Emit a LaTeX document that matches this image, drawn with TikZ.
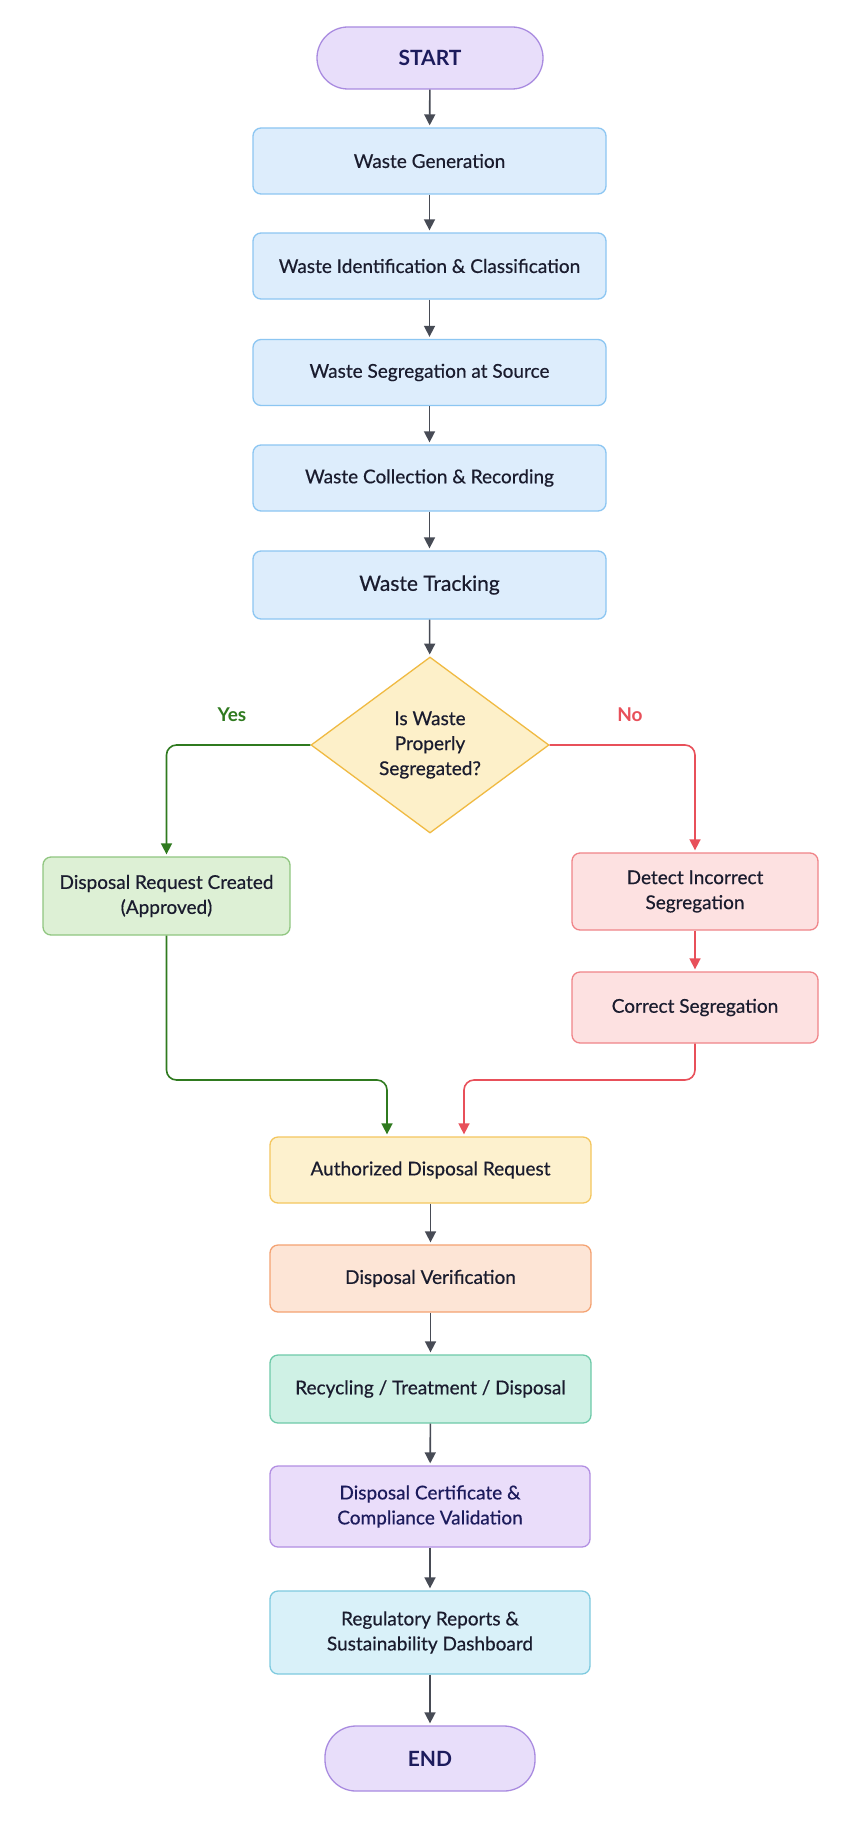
\documentclass[tikz,border=0pt]{standalone}
\usepackage{fontspec}
\setmainfont{Lato}[FakeBold=0.5,BoldFont={Lato Bold},BoldFeatures={FakeBold=0}]
\usetikzlibrary{shapes.geometric,arrows.meta,calc}
\definecolor{txt}{HTML}{1A1C2E}
\definecolor{navy}{HTML}{1C1B5C}
\definecolor{arr}{HTML}{474B55}
\definecolor{gline}{HTML}{2F7A1F}
\definecolor{rline}{HTML}{E8505A}
\definecolor{pillF}{HTML}{E8DEFA}
\definecolor{pillD}{HTML}{A98BE0}
\definecolor{blueF}{HTML}{DDEDFC}
\definecolor{blueD}{HTML}{8CC6F2}
\definecolor{decF}{HTML}{FDF0C9}
\definecolor{decD}{HTML}{F0BA42}
\definecolor{grnF}{HTML}{DDF0D5}
\definecolor{grnD}{HTML}{90C680}
\definecolor{redF}{HTML}{FDE1E1}
\definecolor{redD}{HTML}{F08488}
\definecolor{ylwF}{HTML}{FDF1CE}
\definecolor{ylwD}{HTML}{F4C65E}
\definecolor{orgF}{HTML}{FDE5D6}
\definecolor{orgD}{HTML}{F4A272}
\definecolor{tealF}{HTML}{CFF1E5}
\definecolor{tealD}{HTML}{6ECAA9}
\definecolor{purF}{HTML}{EADDFA}
\definecolor{purD}{HTML}{B28EE2}
\definecolor{cyanF}{HTML}{D9F1F9}
\definecolor{cyanD}{HTML}{7ECADF}
\tikzset{
  base/.style={draw, line width=1.3pt, rounded corners=8pt, align=center, inner sep=0pt, text=txt, font=\fontsize{19}{25}\selectfont},
  pill/.style={base, fill=pillF, draw=pillD, rounded corners=31pt, text=navy, font=\fontsize{21}{25}\selectfont\bfseries},
  bluebox/.style={base, fill=blueF, draw=blueD, minimum width=353pt, minimum height=66pt},
  procbox/.style={base, minimum width=321pt, minimum height=66pt},
  decision/.style={diamond, draw=decD, fill=decF, line width=1.3pt, aspect=1.35, minimum width=238pt, minimum height=176pt, inner sep=0pt, align=center, text=txt, font=\fontsize{19}{25}\selectfont},
  lbl/.style={font=\fontsize{19}{22}\selectfont\bfseries},
  flow/.style={draw=arr, line width=1.6pt, -{Triangle[length=11pt,width=11pt]}, shorten >=2pt},
  gflow/.style={draw=gline, line width=1.6pt, rounded corners=10pt, -{Triangle[length=11pt,width=11pt]}, shorten >=2pt},
  rflow/.style={draw=rline, line width=1.6pt, rounded corners=10pt, -{Triangle[length=11pt,width=11pt]}, shorten >=2pt},
}
\begin{document}
\begin{tikzpicture}[x=1pt,y=-1pt]
\useasboundingbox[fill=white] (0,0) rectangle (863,1822);
\node[pill, minimum width=226pt, minimum height=62pt] (start) at (430,58) {START};
\node[bluebox] (wg) at (429.5,161) {Waste Generation};
\node[bluebox] (wic) at (429.5,266) {Waste Identification \& Classification};
\node[bluebox] (wss) at (429.5,372.5) {Waste Segregation at Source};
\node[bluebox] (wcr) at (429.5,478) {Waste Collection \& Recording};
\node[bluebox, minimum height=68pt, font=\fontsize{21}{25}\selectfont] (wt) at (429.5,585) {Waste Tracking};
\node[decision] (dec) at (430,745) {Is Waste\\Properly\\Segregated?};
\node[base, fill=grnF, draw=grnD, minimum width=247pt, minimum height=78pt] (dreq) at (166.5,896) {Disposal Request Created\\(Approved)};
\node[base, fill=redF, draw=redD, minimum width=246pt, minimum height=77pt] (det) at (695,891.5) {Detect Incorrect\\Segregation};
\node[base, fill=redF, draw=redD, minimum width=246pt, minimum height=71pt] (cor) at (695,1007.5) {Correct Segregation};
\node[procbox, fill=ylwF, draw=ylwD] (auth) at (430.5,1170) {Authorized Disposal Request};
\node[procbox, fill=orgF, draw=orgD, minimum height=67pt] (dv) at (430.5,1278.5) {Disposal Verification};
\node[procbox, fill=tealF, draw=tealD, minimum height=68pt] (rec) at (430.5,1389) {Recycling / Treatment / Disposal};
\node[procbox, fill=purF, draw=purD, minimum width=320pt, minimum height=81pt, text=navy] (cert) at (430,1506.5) {Disposal Certificate \&\\Compliance Validation};
\node[procbox, fill=cyanF, draw=cyanD, minimum width=320pt, minimum height=83pt] (reg) at (430,1632.5) {Regulatory Reports \&\\Sustainability Dashboard};
\node[pill, minimum width=210pt, minimum height=65pt] (end) at (430,1758.5) {END};
\node[lbl, text=gline] (yes) at (232,715) {Yes};
\node[lbl, text=rline] (no) at (630,715) {No};
\coordinate (gm) at (387,1080);
\coordinate (rm) at (464,1080);
\draw[flow] (start) -- (wg);
\draw[flow] (wg) -- (wic);
\draw[flow] (wic) -- (wss);
\draw[flow] (wss) -- (wcr);
\draw[flow] (wcr) -- (wt);
\draw[flow] (wt) -- (dec);
\draw[gflow] (dec.west) -| (dreq.north);
\draw[rflow] (dec.east) -| (det.north);
\draw[rflow] (det) -- (cor);
\draw[gflow] (dreq.south) |- (gm) -- (gm |- auth.north);
\draw[rflow] (cor.south) |- (rm) -- (rm |- auth.north);
\draw[flow] (auth) -- (dv);
\draw[flow] (dv) -- (rec);
\draw[flow] (rec) -- (cert);
\draw[flow] (cert) -- (reg);
\draw[flow] (reg) -- (end);
\end{tikzpicture}
\end{document}
